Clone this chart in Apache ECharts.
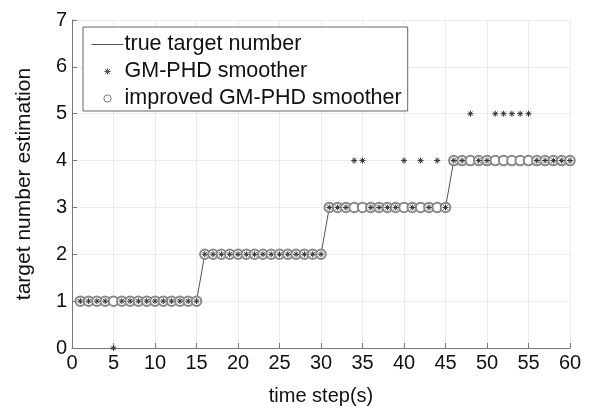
<!DOCTYPE html>
<html>
<head>
<meta charset="utf-8">
<script src="https://cdn.jsdelivr.net/npm/echarts@6/dist/echarts.min.js"></script>
<style>html,body{margin:0;padding:0;background:#fff}#c{width:593px;height:414px}</style>
</head>
<body>
<div id="c"></div>
<script>
var timeSteps = [];
for (var i = 1; i <= 60; i++) timeSteps.push(i);
var trueNumber = [1,1,1,1,1,1,1,1,1,1,1,1,1,1,1,
                  2,2,2,2,2,2,2,2,2,2,2,2,2,2,2,
                  3,3,3,3,3,3,3,3,3,3,3,3,3,3,3,
                  4,4,4,4,4,4,4,4,4,4,4,4,4,4,4];
var gmphdSmoother = [1,1,1,1,0,1,1,1,1,1,1,1,1,1,1,
                     2,2,2,2,2,2,2,2,2,2,2,2,2,2,2,
                     3,3,3,4,4,3,3,3,3,4,3,4,3,4,3,
                     4,4,5,4,4,5,5,5,5,5,4,4,4,4,4];
var improvedSmoother = [1,1,1,1,1,1,1,1,1,1,1,1,1,1,1,
                        2,2,2,2,2,2,2,2,2,2,2,2,2,2,2,
                        3,3,3,3,3,3,3,3,3,3,3,3,3,3,3,
                        4,4,4,4,4,4,4,4,4,4,4,4,4,4,4];
var xTicks = [0,5,10,15,20,25,30,35,40,45,50,55,60];
var yTicks = [0,1,2,3,4,5,6,7];

function pairs(vals){ return timeSteps.map(function(t,i){ return [t, vals[i]]; }); }

var starPath = 'path://M0,-5L0,5M-5,0L5,0M-3.5,-3.5L3.5,3.5M-3.5,3.5L3.5,-3.5';
var legendLine = 'path://M-16,-10M16,10M-16,0L16,0';
var legendStar = 'path://M-16,-10M16,10M0,-3.2L0,3.2M-3.2,0L3.2,0M-2.3,-2.3L2.3,2.3M-2.3,2.3L2.3,-2.3';
var legendCircle = 'path://M-16,-10M16,10M3.6,0A3.6,3.6,0,1,1,-3.6,0A3.6,3.6,0,1,1,3.6,0Z';
var font = '"Liberation Sans", Arial, sans-serif';
var chart = echarts.init(document.getElementById('c'), null, {renderer:'canvas'});
chart.setOption({
  animation: false,
  backgroundColor: '#fff',
  grid: {left: 72, right: 23, top: 20, bottom: 66},
  legend: {
    orient: 'vertical', left: 83, top: 27,
    backgroundColor: '#fff', borderColor: '#666', borderWidth: 1,
    padding: [5, 6, 0, 6], itemGap: 2, itemWidth: 32, itemHeight: 20,
    textStyle: {fontFamily: font, fontSize: 21.5, color: '#111', padding:[0,0,0,-4]},
    data: [
      {name: 'true target number', icon: legendLine, itemStyle:{color:'none', borderColor:'#555', borderWidth:1}},
      {name: 'GM-PHD smoother', icon: legendStar, itemStyle:{color:'none', borderColor:'#555', borderWidth:1}},
      {name: 'improved GM-PHD smoother', icon: legendCircle, itemStyle:{color:'none', borderColor:'#777', borderWidth:1}}
    ]
  },
  xAxis: {
    type: 'value', min: 0, max: 60, interval: 5,
    name: 'time step(s)', nameLocation: 'middle', nameGap: 38,
    nameTextStyle: {fontFamily: font, fontSize: 20, color: '#111'},
    axisLine: {onZero:false, lineStyle: {color: '#777', width: 1}},
    axisTick: {inside: true, length: 5, lineStyle: {color: '#777'}},
    axisLabel: {fontFamily: font, fontSize: 20, color: '#111', margin: 5},
    splitLine: {show: true, lineStyle: {color: '#ececec', width: 1}}
  },
  yAxis: {
    type: 'value', min: 0, max: 7, interval: 1,
    name: 'target number estimation', nameLocation: 'middle', nameGap: 37,
    nameTextStyle: {fontFamily: font, fontSize: 21, color: '#111'},
    axisLine: {show: true, onZero:false, lineStyle: {color: '#777', width: 1}},
    axisTick: {show: true, inside: true, length: 5, lineStyle: {color: '#777'}},
    axisLabel: {fontFamily: font, fontSize: 20, color: '#111', margin: 5},
    splitLine: {show: true, lineStyle: {color: '#ececec', width: 1}}
  },
  series: [
    {
      name: 'true target number', type: 'line', data: pairs(trueNumber),
      symbol: 'none', lineStyle: {color: '#555', width: 1}, itemStyle:{color:'#555'}, z: 2
    },
    {
      name: 'improved GM-PHD smoother', type: 'scatter', data: pairs(improvedSmoother),
      symbol: 'emptyCircle', symbolSize: 9.5,
      itemStyle: {color: '#888', borderWidth: 1.2, opacity: 1}, z: 3
    },
    {
      name: 'GM-PHD smoother', type: 'scatter', data: pairs(gmphdSmoother),
      symbol: starPath, symbolSize: 6,
      itemStyle: {color: '#333', borderColor: '#333', borderWidth: 1, opacity: 1}, z: 4
    }
  ]
});
</script>
</body>
</html>
